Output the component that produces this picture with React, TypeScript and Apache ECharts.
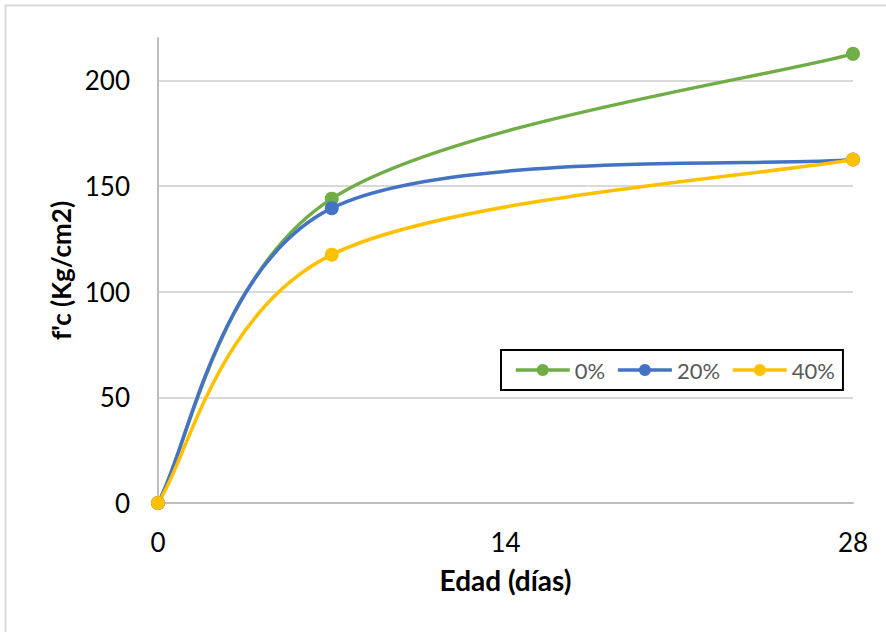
import React, { useEffect, useRef } from "react";
import * as echarts from "echarts";

const days = [0, 7, 28];
const s0 = [0, 144, 212.5];
const s20 = [0, 139.5, 162.5];
const s40 = [0, 117.5, 162.5];
const seriesNames = ["0%", "20%", "40%"];
const colors = ["#70AD47", "#4472C4", "#FFC000"];

const FONT = "Lato, 'Noto Sans', sans-serif";

export default function App() {
  const ref = useRef<HTMLDivElement>(null);
  useEffect(() => {
    if (!ref.current) return;
    const chart = echarts.init(ref.current, null, { renderer: "svg" });
    const data = [s0, s20, s40];

    const makeRender = (vals: number[], color: string) => (params: any, api: any) => {
      const i = params.dataIndex;
      const n = days.length;
      if (i >= n - 1) return { type: "group", children: [] };
      const P = (k: number) => {
        const kk = Math.max(0, Math.min(n - 1, k));
        return api.coord([days[kk], vals[kk]]);
      };
      const p0 = P(i - 1);
      const p1 = P(i);
      const p2 = P(i + 1);
      const p3 = P(i + 2);
      return {
        type: "bezierCurve",
        shape: {
          x1: p1[0],
          y1: p1[1],
          x2: p2[0],
          y2: p2[1],
          cpx1: p1[0] + (p2[0] - p0[0]) / 6,
          cpy1: p1[1] + (p2[1] - p0[1]) / 6,
          cpx2: p2[0] - (p3[0] - p1[0]) / 6,
          cpy2: p2[1] - (p3[1] - p1[1]) / 6,
        },
        style: { stroke: color, lineWidth: 3.5, fill: "none", lineCap: "round" },
        silent: true,
      };
    };

    const series: any[] = [];
    data.forEach((d, i) => {
      const pts = days.map((x, j) => [x, d[j]]);
      series.push({
        name: seriesNames[i] + " curva",
        type: "custom",
        renderItem: makeRender(d, colors[i]),
        data: pts,
        encode: { x: 0, y: 1 },
        clip: false,
        silent: true,
      });
      series.push({
        name: seriesNames[i],
        type: "line",
        data: pts,
        symbol: "circle",
        symbolSize: 14,
        showSymbol: true,
        itemStyle: { color: colors[i] },
        lineStyle: { color: colors[i], width: 3, opacity: 0 },
      });
    });

    chart.setOption({
      animation: false,
      backgroundColor: "#fff",
      textStyle: { fontFamily: FONT },
      graphic: [
        {
          type: "rect",
          shape: { x: 5.5, y: 5.5, width: 1000, height: 1000 },
          style: { fill: "none", stroke: "#D9D9D9", lineWidth: 2 },
          silent: true,
          z: -10,
        },
      ],
      grid: { left: 158, right: 33, top: 38, bottom: 129 },
      legend: {
        left: 501,
        top: 350,
        padding: [9, 8, 9, 13],
        borderColor: "#000",
        borderWidth: 2,
        backgroundColor: "#fff",
        itemWidth: 54,
        itemHeight: 15,
        itemGap: 11,
        textStyle: { color: "#595959", fontSize: 22, fontFamily: FONT },
        data: seriesNames.map((n, i) => ({
          name: n,
          lineStyle: { color: colors[i], width: 3.5, opacity: 1 },
          itemStyle: { color: colors[i] },
        })),
      },
      xAxis: {
        type: "value",
        min: 0,
        max: 28,
        interval: 14,
        name: "Edad (días)",
        nameLocation: "middle",
        nameGap: 63,
        nameTextStyle: { fontSize: 28, fontWeight: "bold", color: "#000", fontFamily: FONT },
        axisLine: { show: true, lineStyle: { color: "#BFBFBF", width: 2 } },
        axisTick: { show: false },
        splitLine: { show: false },
        axisLabel: { fontSize: 26, color: "#000", margin: 26, fontFamily: FONT },
      },
      yAxis: {
        type: "value",
        min: 0,
        max: 220,
        interval: 50,
        name: "f'c (Kg/cm2)",
        nameLocation: "middle",
        nameGap: 84,
        nameTextStyle: { fontSize: 26, fontWeight: "bold", color: "#000", fontFamily: FONT },
        axisLine: { show: true, lineStyle: { color: "#BFBFBF", width: 2 } },
        axisTick: { show: false },
        splitLine: { show: true, showMaxLine: false, lineStyle: { color: "#D9D9D9", width: 2 } },
        axisLabel: {
          fontSize: 26,
          color: "#000",
          margin: 28,
          showMaxLabel: false,
          fontFamily: FONT,
          formatter: (v: number) => (v % 50 === 0 ? String(v) : ""),
        },
      },
      series,
    });
    return () => chart.dispose();
  }, []);
  return (
    <div
      ref={ref}
      style={{ position: "absolute", left: 0, top: 0, width: 886, height: 632 }}
    />
  );
}
